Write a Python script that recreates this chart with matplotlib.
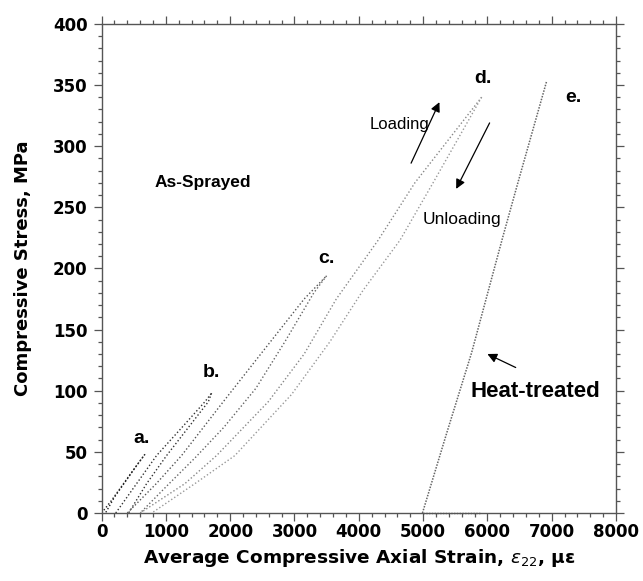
import matplotlib
matplotlib.use("Agg")
import matplotlib.pyplot as plt
from matplotlib.ticker import MultipleLocator

plt.rcParams['font.family'] = ['Liberation Sans', 'DejaVu Sans']

# ---- data (strain in micro-strain, stress in MPa) ----
a_load_x = [0, 150, 300, 450, 673]
a_load_y = [0, 10, 21, 32, 48]
a_unload_x = [673, 520, 360, 200, 60]
a_unload_y = [48, 37, 25, 13, 0]

b_load_x = [220, 544, 855, 1250, 1607, 1710]
b_load_y = [0, 24, 47, 70, 91, 98]
b_unload_x = [1710, 1660, 1350, 1011, 700, 420]
b_unload_y = [98, 91, 70, 47, 24, 0]

c_load_x = [400, 850, 1244, 1892, 2550, 3150, 3499]
c_load_y = [0, 24, 47, 91, 135, 175, 194]
c_unload_x = [3499, 3300, 2850, 2400, 1900, 1451, 1050, 600]
c_unload_y = [194, 180, 140, 102, 70, 45, 24, 0]

d_load_x = [600, 1295, 1788, 2592, 3150, 3650, 4300, 4872, 5910]
d_load_y = [0, 24, 47, 91, 130, 175, 223, 270, 340]
d_unload_x = [5910, 5155, 4640, 4065, 3550, 2955, 2073, 1450, 780]
d_unload_y = [340, 270, 223, 182, 140, 97, 47, 24, 0]

e_x = [4990, 5365, 5754, 6241, 6474, 6921]
e_y = [0, 65, 131, 226, 270, 353]
e_flat_x = [5000, 5900]
e_flat_y = [0, 0]

x_ticks = [0, 1000, 2000, 3000, 4000, 5000, 6000, 7000, 8000]
y_ticks = [0, 50, 100, 150, 200, 250, 300, 350, 400]

fig = plt.figure(figsize=(6.43, 5.81), dpi=100)
ax = fig.add_axes([0.158, 0.117, 0.800, 0.842])

dot = (0, (1, 1.6))
for xs, ys, col in [(a_load_x, a_load_y, '#222222'), (a_unload_x, a_unload_y, '#222222'),
                    (b_load_x, b_load_y, '#333333'), (b_unload_x, b_unload_y, '#333333'),
                    (c_load_x, c_load_y, '#555555'), (c_unload_x, c_unload_y, '#666666'),
                    (d_load_x, d_load_y, '#888888'), (d_unload_x, d_unload_y, '#999999')]:
    ax.plot(xs, ys, linestyle=dot, color=col, lw=1.0)
ax.plot(e_x, e_y, linestyle=(0, (1, 0.9)), color='#666666', lw=1.1)
ax.plot(e_flat_x, e_flat_y, linestyle=(0, (1, 1)), color='#444444', lw=1.0, clip_on=False)

ax.set_xlim(0, 8000)
ax.set_ylim(0, 400)
ax.set_xticks(x_ticks)
ax.set_yticks(y_ticks)
ax.xaxis.set_minor_locator(MultipleLocator(200))
ax.yaxis.set_minor_locator(MultipleLocator(10))
ax.tick_params(which='both', direction='out', top=True, right=True, labeltop=False, labelright=False,
               color='#555555', width=0.9)
ax.tick_params(which='major', length=6)
ax.tick_params(which='minor', length=3)
ax.tick_params(axis='x', which='major', pad=1.5)
ax.tick_params(axis='y', which='major', pad=4)
for lab in ax.get_xticklabels() + ax.get_yticklabels():
    lab.set_fontweight('bold')
    lab.set_fontsize(12)
    lab.set_family('DejaVu Sans')
for s in ax.spines.values():
    s.set_color('#555555')
    s.set_linewidth(1.0)

ax.set_xlabel('Average Compressive Axial Strain, $\\varepsilon_{22}$, \u03bc\u03b5', fontsize=13.3,
              fontweight='bold', family='DejaVu Sans')
ax.set_ylabel('Compressive Stress, MPa', fontsize=13, fontweight='bold', family='DejaVu Sans')
ax.xaxis.set_label_coords(0.5, -0.07)
ax.yaxis.set_label_coords(-0.135, 0.5)

bold = dict(fontsize=14, fontweight='bold', ha='center', va='center')
ax.text(627, 61, 'a.', **bold)
ax.text(1715, 115, 'b.', **bold)
ax.text(3504, 208, 'c.', **bold)
ax.text(5925, 355, 'd.', **bold)
ax.text(7334, 340, 'e.', **bold)
ax.text(1576, 270, 'As-Sprayed', fontsize=12.5, fontweight='bold', ha='center', va='center')
ax.text(7750, 99, 'Heat-treated', fontsize=16, fontweight='bold', ha='right', va='center')
ax.text(5090, 318, 'Loading', fontsize=12, ha='right', va='center')
ax.text(4997, 240, 'Unloading', fontsize=12.5, ha='left', va='center')

arr = dict(arrowstyle='-|>', color='black', lw=0.9, mutation_scale=14)
ax.annotate('', xy=(5272, 338), xytext=(4795, 284), arrowprops=arr)
ax.annotate('', xy=(5495, 263), xytext=(6054, 321), arrowprops=arr)
ax.annotate('', xy=(5961, 131), xytext=(6479, 118), arrowprops=arr)

fig.savefig('out.png', dpi=100)
